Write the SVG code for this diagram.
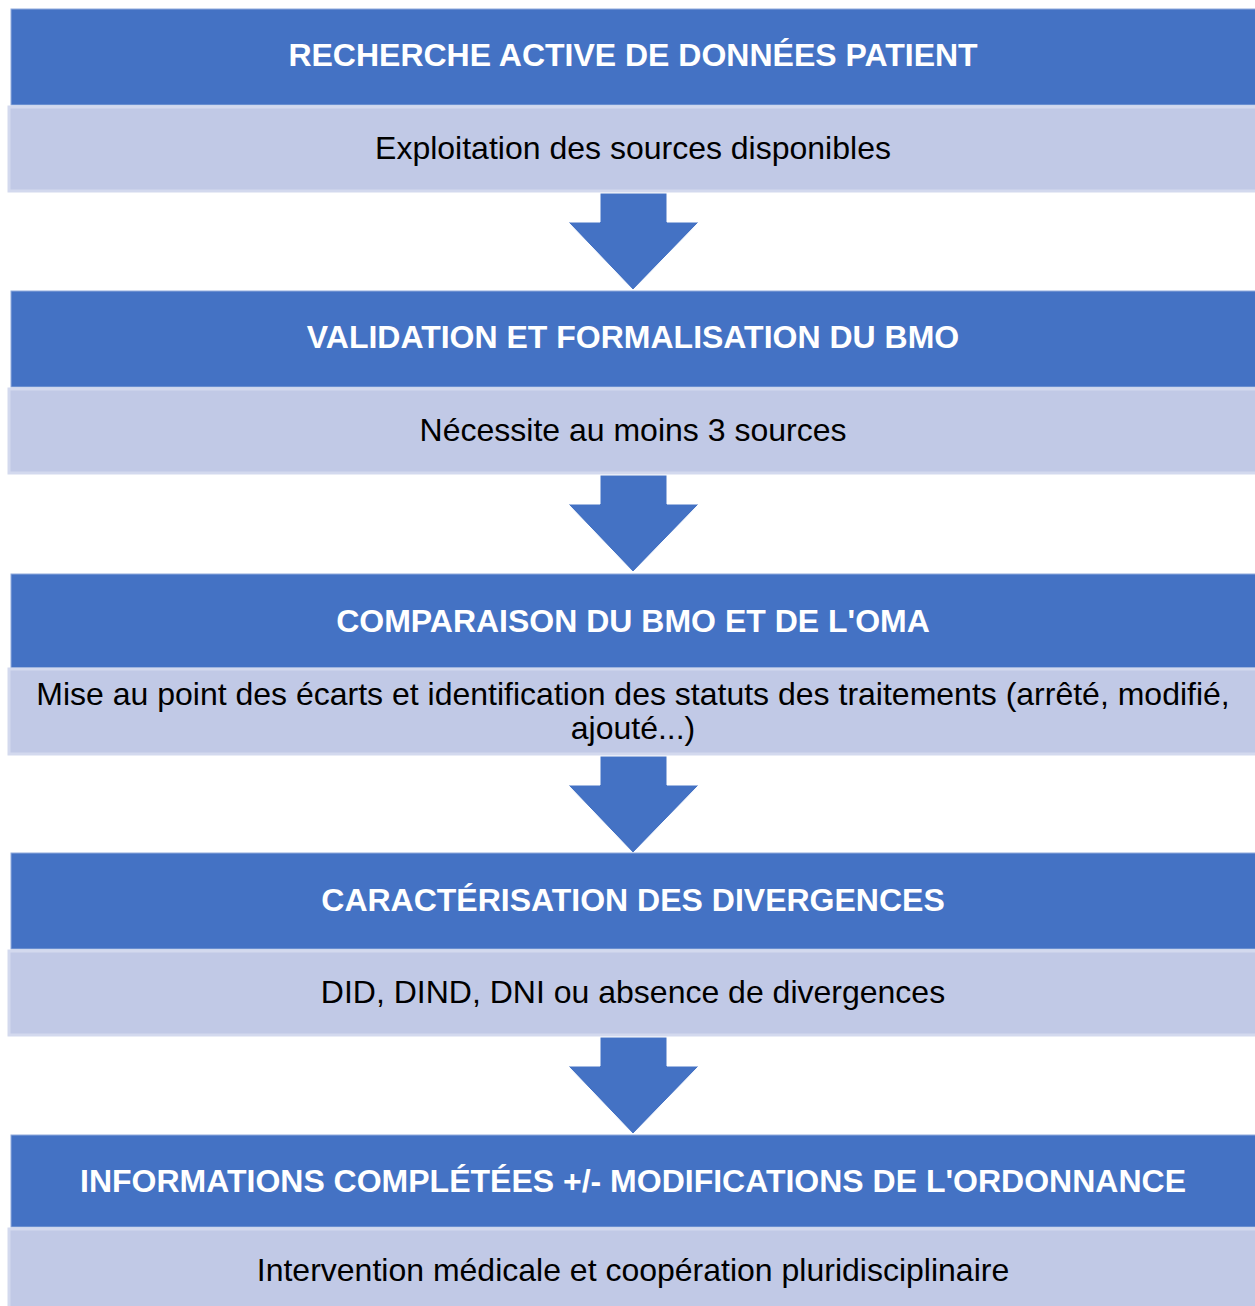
<svg xmlns="http://www.w3.org/2000/svg" width="1255" height="1306" viewBox="0 0 1255 1306">
<style>
.hd{fill:#4472C4;stroke:#8FAADC;stroke-width:1}
.lt{fill:#C1C9E6;stroke:#D3D9EE;stroke-width:3}
.ht{font-family:"Liberation Sans",Arial,sans-serif;font-weight:bold;font-size:32px;fill:#FFFFFF;text-anchor:middle}
.bt{font-family:"Liberation Sans",Arial,sans-serif;font-size:32px;fill:#000000;text-anchor:middle}
.ar{fill:#4472C4;stroke:#FFFFFF;stroke-width:1}
</style>
<rect width="1255" height="1306" fill="#FFFFFF"/>
<g id="connectors">
<polygon class="ar" points="600,193 667,193 667,222 699,222 633,290 568,222 600,222"/>
<polygon class="ar" points="600,475 667,475 667,504 699,504 633,572 568,504 600,504"/>
<polygon class="ar" points="600,756 667,756 667,785 699,785 633,853 568,785 600,785"/>
<polygon class="ar" points="600,1037 667,1037 667,1066 699,1066 633,1134 568,1066 600,1066"/>
</g>
<g id="step1">
<rect class="hd" x="11" y="9" width="1250" height="96"/>
<text class="ht" x="633" y="66">RECHERCHE ACTIVE DE DONNÉES PATIENT</text>
<rect class="lt" x="9" y="107" width="1250" height="84"/>
<text class="bt" x="633" y="159">Exploitation des sources disponibles</text>
</g>
<g id="step2">
<rect class="hd" x="11" y="291" width="1250" height="96"/>
<text class="ht" x="633" y="348">VALIDATION ET FORMALISATION DU BMO</text>
<rect class="lt" x="9" y="389" width="1250" height="84"/>
<text class="bt" x="633" y="441">Nécessite au moins 3 sources</text>
</g>
<g id="step3">
<rect class="hd" x="11" y="574" width="1250" height="94"/>
<text class="ht" x="633" y="632">COMPARAISON DU BMO ET DE L'OMA</text>
<rect class="lt" x="9" y="669" width="1250" height="85"/>
<text class="bt" x="633" y="705">Mise au point des écarts et identification des statuts des traitements (arrêté, modifié,</text>
<text class="bt" x="633" y="739">ajouté...)</text>
</g>
<g id="step4">
<rect class="hd" x="11" y="853" width="1250" height="96"/>
<text class="ht" x="633" y="911">CARACTÉRISATION DES DIVERGENCES</text>
<rect class="lt" x="9" y="951" width="1250" height="84"/>
<text class="bt" x="633" y="1003">DID, DIND, DNI ou absence de divergences</text>
</g>
<g id="step5">
<rect class="hd" x="11" y="1135" width="1250" height="92"/>
<text class="ht" x="633" y="1192">INFORMATIONS COMPLÉTÉES +/- MODIFICATIONS DE L'ORDONNANCE</text>
<rect class="lt" x="9" y="1229" width="1250" height="84"/>
<text class="bt" x="633" y="1281">Intervention médicale et coopération pluridisciplinaire</text>
</g>
</svg>
